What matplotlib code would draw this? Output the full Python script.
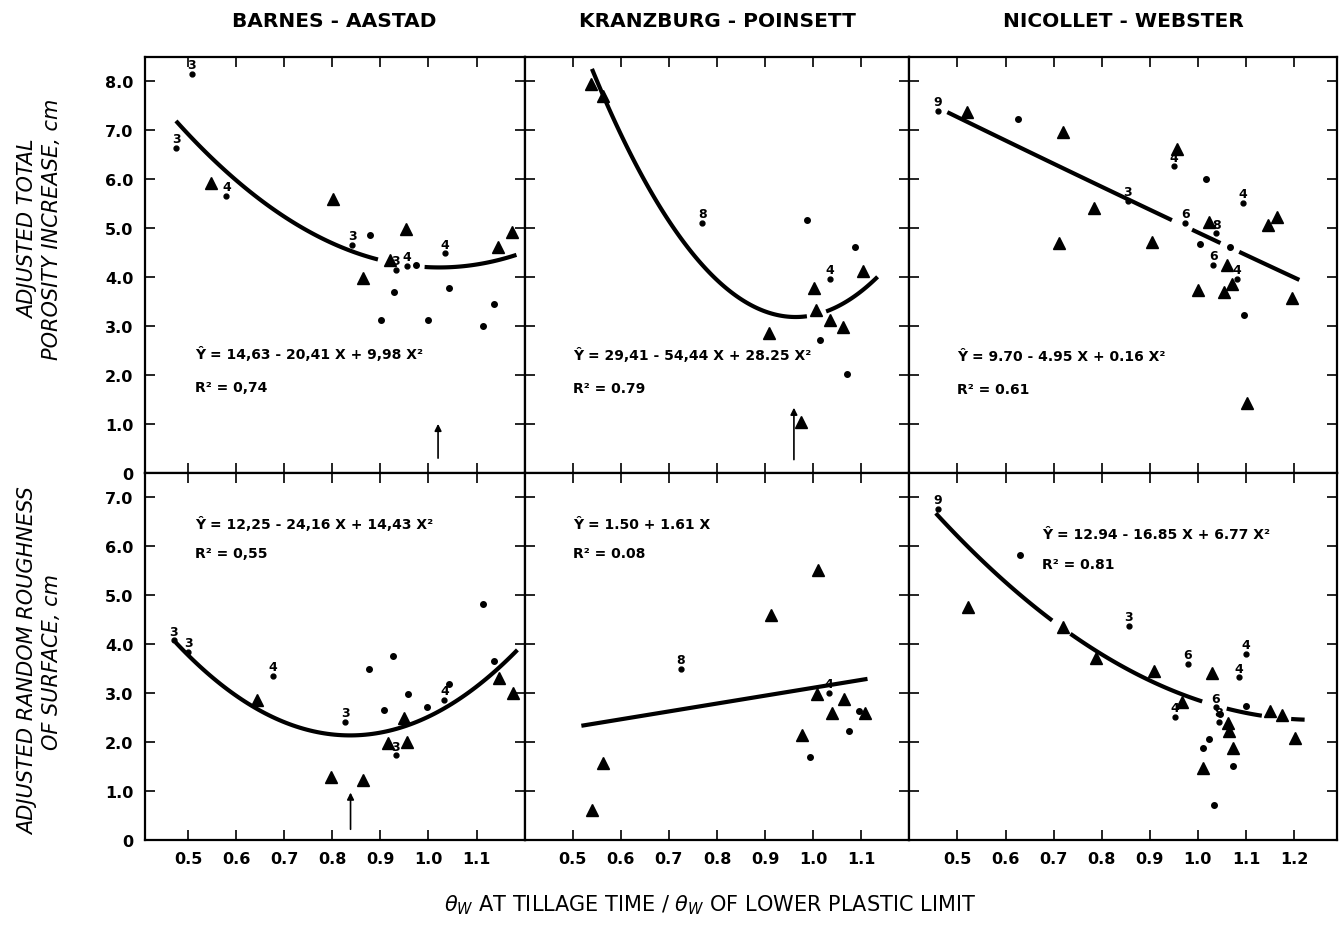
import matplotlib
matplotlib.use('Agg')
import matplotlib.pyplot as plt
import numpy as np

plt.rcParams['font.family'] = ['DejaVu Sans']

# column titles / row labels
soils = ['BARNES - AASTAD', 'KRANZBURG - POINSETT', 'NICOLLET - WEBSTER']
row_labels = ['ADJUSTED TOTAL\nPOROSITY INCREASE, cm',
              'ADJUSTED RANDOM ROUGHNESS\nOF SURFACE, cm']
x_label = r'$\theta_W$ AT TILLAGE TIME / $\theta_W$ OF LOWER PLASTIC LIMIT'

x_limits = [(0.41, 1.20), (0.40, 1.20), (0.40, 1.29)]
x_ticks = [[0.5, 0.6, 0.7, 0.8, 0.9, 1.0, 1.1],
           [0.5, 0.6, 0.7, 0.8, 0.9, 1.0, 1.1],
           [0.5, 0.6, 0.7, 0.8, 0.9, 1.0, 1.1, 1.2]]
y_max = [8.5, 7.5]
y_ticks_top = [0, 1, 2, 3, 4, 5, 6, 7, 8]
y_ticks_bottom = [0, 1, 2, 3, 4, 5, 6, 7]

# ---- porosity, Barnes-Aastad
p1_tri_x = [0.548, 0.801, 0.863, 0.920, 0.953, 1.145, 1.174]
p1_tri_y = [5.92, 5.59, 3.97, 4.35, 4.99, 4.62, 4.91]
p1_dot_x = [0.879, 0.975, 0.929, 0.902, 1.000, 1.043, 1.114, 1.137]
p1_dot_y = [4.85, 4.24, 3.70, 3.13, 3.12, 3.77, 2.99, 3.44]
p1_lab_x = [0.508, 0.476, 0.580, 0.842, 0.955, 0.932, 1.035]
p1_lab_y = [8.15, 6.64, 5.65, 4.66, 4.22, 4.14, 4.48]
p1_lab_n = ['3', '3', '4', '3', '4', '3', '4']
p1_coef = [14.63, -20.41, 9.98]
p1_segs = [(0.475, 0.895), (0.992, 1.183)]
p1_eq = ['Ŷ = 14,63 - 20,41 X + 9,98 X²', 'R² = 0,74']
p1_arrow = (1.02, 0.30, 1.00)

# ---- porosity, Kranzburg-Poinsett
p2_tri_x = [0.539, 0.562, 1.103, 1.001, 1.005, 1.034, 1.063, 0.909, 0.974]
p2_tri_y = [7.94, 7.70, 4.13, 3.77, 3.33, 3.13, 2.97, 2.86, 1.03]
p2_dot_x = [0.988, 1.088, 1.015, 1.070]
p2_dot_y = [5.17, 4.62, 2.72, 2.01]
p2_lab_x = [0.769, 1.034]
p2_lab_y = [5.10, 3.96]
p2_lab_n = ['8', '4']
p2_coef = [29.41, -54.44, 28.25]
p2_segs = [(0.540, 0.987), (1.027, 1.134)]
p2_eq = ['Ŷ = 29,41 - 54,44 X + 28.25 X²', 'R² = 0.79']
p2_arrow = (0.960, 0.27, 1.33)

# ---- porosity, Nicollet-Webster
p3_tri_x = [0.520, 0.720, 0.711, 0.785, 0.905, 0.957, 1.145, 1.165,
            1.023, 1.061, 1.070, 1.054, 1.001, 1.196, 1.103]
p3_tri_y = [7.37, 6.96, 4.69, 5.41, 4.71, 6.62, 5.07, 5.22,
            5.13, 4.24, 3.85, 3.70, 3.73, 3.57, 1.42]
p3_dot_x = [0.626, 1.016, 1.005, 1.066, 1.096]
p3_dot_y = [7.22, 6.00, 4.67, 4.62, 3.22]
p3_lab_x = [0.460, 0.854, 0.950, 1.093, 0.974, 1.038, 1.032, 1.082]
p3_lab_y = [7.39, 5.55, 6.26, 5.51, 5.11, 4.89, 4.24, 3.96]
p3_lab_n = ['9', '3', '4', '4', '6', '8', '6', '4']
p3_coef = [9.70, -4.95, 0.16]
p3_segs = [(0.479, 0.946), (0.988, 1.047), (1.086, 1.211)]
p3_eq = ['Ŷ = 9.70 - 4.95 X + 0.16 X²', 'R² = 0.61']
p3_arrow = None

# ---- roughness, Barnes-Aastad
r1_tri_x = [0.644, 0.798, 0.863, 0.916, 0.950, 0.955, 1.146, 1.176]
r1_tri_y = [2.86, 1.28, 1.22, 1.99, 2.50, 2.01, 3.31, 3.01]
r1_dot_x = [0.877, 0.927, 0.907, 0.957, 0.998, 1.042, 1.114, 1.136]
r1_dot_y = [3.49, 3.76, 2.66, 2.98, 2.71, 3.18, 4.83, 3.66]
r1_lab_x = [0.470, 0.501, 0.676, 0.827, 0.932, 1.033]
r1_lab_y = [4.08, 3.84, 3.35, 2.42, 1.73, 2.86]
r1_lab_n = ['3', '3', '4', '3', '3', '4']
r1_coef = [12.25, -24.16, 14.43]
r1_segs = [(0.474, 1.185)]
r1_eq = ['Ŷ = 12,25 - 24,16 X + 14,43 X²', 'R² = 0,55']
r1_arrow = (0.838, 0.22, 0.97)

# ---- roughness, Kranzburg-Poinsett
r2_tri_x = [0.540, 0.562, 0.913, 1.011, 0.976, 1.008, 1.039, 1.065, 1.107]
r2_tri_y = [0.62, 1.57, 4.60, 5.51, 2.14, 2.99, 2.59, 2.88, 2.59]
r2_dot_x = [0.994, 1.074, 1.095]
r2_dot_y = [1.69, 2.22, 2.64]
r2_lab_x = [0.725, 1.032]
r2_lab_y = [3.49, 3.01]
r2_lab_n = ['8', '4']
r2_coef = [1.50, 1.61, 0.0]
r2_segs = [(0.518, 1.113)]
r2_eq = ['Ŷ = 1.50 + 1.61 X', 'R² = 0.08']
r2_arrow = None

# ---- roughness, Nicollet-Webster
r3_tri_x = [0.522, 0.720, 0.788, 0.909, 1.030, 0.966, 1.063, 1.065,
            1.073, 1.011, 1.151, 1.174, 1.201]
r3_tri_y = [4.75, 4.35, 3.71, 3.46, 3.41, 2.82, 2.39, 2.23,
            1.87, 1.48, 2.63, 2.55, 2.08]
r3_dot_x = [0.631, 1.100, 1.046, 1.023, 1.011, 1.073, 1.033]
r3_dot_y = [5.82, 2.73, 2.57, 2.07, 1.87, 1.52, 0.72]
r3_lab_x = [0.460, 0.856, 0.979, 1.086, 1.100, 0.952, 1.037, 1.043]
r3_lab_y = [6.76, 4.37, 3.59, 3.32, 3.81, 2.52, 2.71, 2.41]
r3_lab_n = ['9', '3', '6', '4', '4', '4', '6', '8']
r3_coef = [12.94, -16.85, 6.77]
r3_segs = [(0.455, 0.697), (0.735, 1.009), (1.060, 1.133), (1.194, 1.222)]
r3_eq = ['Ŷ = 12.94 - 16.85 X + 6.77 X²', 'R² = 0.81']
r3_arrow = None

panels = [
    [(p1_tri_x, p1_tri_y, p1_dot_x, p1_dot_y, p1_lab_x, p1_lab_y, p1_lab_n, p1_coef, p1_segs, p1_eq, p1_arrow),
     (p2_tri_x, p2_tri_y, p2_dot_x, p2_dot_y, p2_lab_x, p2_lab_y, p2_lab_n, p2_coef, p2_segs, p2_eq, p2_arrow),
     (p3_tri_x, p3_tri_y, p3_dot_x, p3_dot_y, p3_lab_x, p3_lab_y, p3_lab_n, p3_coef, p3_segs, p3_eq, p3_arrow)],
    [(r1_tri_x, r1_tri_y, r1_dot_x, r1_dot_y, r1_lab_x, r1_lab_y, r1_lab_n, r1_coef, r1_segs, r1_eq, r1_arrow),
     (r2_tri_x, r2_tri_y, r2_dot_x, r2_dot_y, r2_lab_x, r2_lab_y, r2_lab_n, r2_coef, r2_segs, r2_eq, r2_arrow),
     (r3_tri_x, r3_tri_y, r3_dot_x, r3_dot_y, r3_lab_x, r3_lab_y, r3_lab_n, r3_coef, r3_segs, r3_eq, r3_arrow)],
]

# where the equation text sits (axes fraction)
eq_pos = [[(0.132, 0.287), (0.127, 0.284), (0.111, 0.281)],
          [(0.132, 0.861), (0.127, 0.861), (0.310, 0.833)]]

widths = [b - a for a, b in x_limits]
fig, axs = plt.subplots(2, 3, figsize=(13.4, 9.45), dpi=100,
                        gridspec_kw={'width_ratios': widths, 'height_ratios': y_max})
plt.subplots_adjust(left=0.108, right=0.998, top=0.939, bottom=0.11, wspace=0, hspace=0)

for r in range(2):
    for c in range(3):
        ax = axs[r][c]
        tx, ty, dx, dy, lx, ly, ln, coef, segs, eq, arrow = panels[r][c]

        # fitted curve, drawn in pieces with gaps around the data
        for a, b in segs:
            xs = np.linspace(a, b, 100)
            ax.plot(xs, coef[0] + coef[1] * xs + coef[2] * xs ** 2,
                    color='black', lw=3, solid_capstyle='butt', zorder=2)

        ax.plot(tx, ty, '^', color='black', ms=8, zorder=3)
        ax.plot(dx, dy, 'o', color='black', ms=4, zorder=3)
        ax.plot(lx, ly, 'o', color='black', ms=3.5, zorder=3)
        for x, y, n in zip(lx, ly, ln):
            ax.annotate(n, (x, y), xytext=(0, 2), textcoords='offset points',
                        ha='center', va='bottom', fontsize=9, fontweight='bold')

        if arrow is not None:
            ax.annotate('', xy=(arrow[0], arrow[2]), xytext=(arrow[0], arrow[1]),
                        arrowprops=dict(arrowstyle='-|>', lw=1.2, color='black',
                                        mutation_scale=10, shrinkA=0, shrinkB=0))

        ex, ey = eq_pos[r][c]
        ax.text(ex, ey, eq[0], transform=ax.transAxes, fontsize=10,
                fontweight='bold', ha='left', va='center')
        ax.text(ex, ey - 0.08, eq[1], transform=ax.transAxes, fontsize=10,
                fontweight='bold', ha='left', va='center')

        ax.set_xlim(*x_limits[c])
        ax.set_ylim(0, y_max[r])
        ax.set_xticks(x_ticks[c])
        ax.set_yticks(y_ticks_top if r == 0 else y_ticks_bottom)
        ax.tick_params(direction='in', top=True, right=True, length=7, width=1.2,
                       labelsize=11.5, pad=8)
        for s in ax.spines.values():
            s.set_linewidth(1.6)

        if r == 1:
            ax.set_xticklabels([f'{v:.1f}' for v in x_ticks[c]], fontweight='bold')
        else:
            ax.set_xticklabels([])
        if c == 0:
            yt = y_ticks_top if r == 0 else y_ticks_bottom
            ax.set_yticklabels(['0' if v == 0 else f'{v:.1f}' for v in yt],
                               fontweight='bold')
        else:
            ax.set_yticklabels([])

        if r == 0:
            ax.set_title(soils[c], fontsize=14.5, fontweight='bold', pad=22)

# row labels (italic, rotated)
fig.text(0.030, 0.757, row_labels[0], rotation=90, fontsize=15, style='italic',
         ha='center', va='center', multialignment='center')
fig.text(0.030, 0.300, row_labels[1], rotation=90, fontsize=15, style='italic',
         ha='center', va='center', multialignment='center')
fig.text(0.53, 0.042, x_label, fontsize=15, ha='center', va='center')

fig.savefig('out.png', dpi=100)
